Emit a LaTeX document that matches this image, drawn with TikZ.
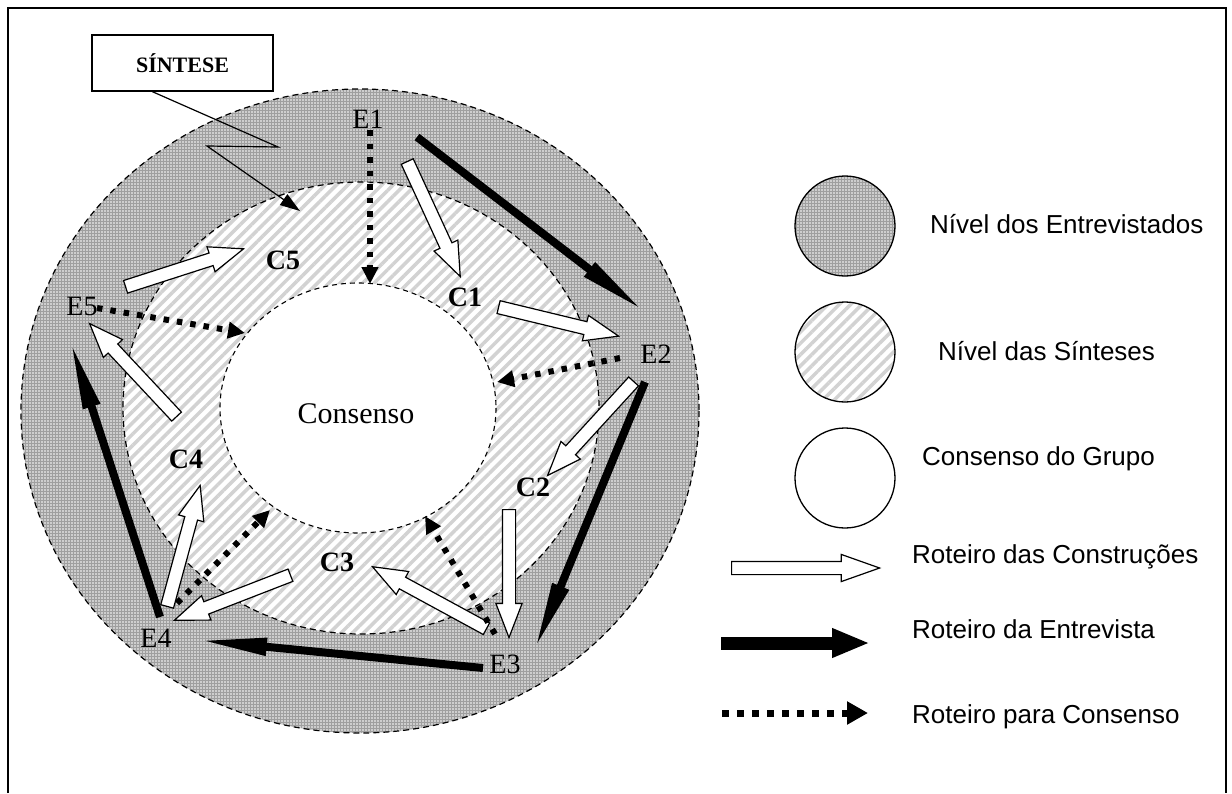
\documentclass[tikz,border=0pt]{standalone}
\usepackage{fontspec}
\setmainfont{Liberation Serif}
\newfontfamily\legendfont{Liberation Sans}
\usetikzlibrary{arrows.meta,patterns.meta,shapes.arrows,calc}

\tikzset{
  entrevistados/.style={preaction={fill=gray!75}, pattern={Dots[distance=3pt,radius=0.8pt]}, pattern color=white},
  sinteses/.style={preaction={fill=white}, pattern={Lines[angle=45,distance=8pt,line width=3.5pt]}, pattern color=gray!35},
  ringborder/.style={draw=black, line width=1.2pt, dash pattern=on 6pt off 4pt},
  legcircle/.style={circle, draw=black, line width=1.3pt, minimum size=100pt, inner sep=0pt},
  elabel/.style={inner sep=0pt, font=\fontsize{28}{30}\selectfont},
  clabel/.style={inner sep=0pt, font=\bfseries\fontsize{28}{30}\selectfont},
  legtext/.style={anchor=base west, inner sep=0pt, font=\legendfont\fontsize{26}{28}\selectfont},
  construcao/.style={single arrow, draw=black, fill=white, line width=1.2pt, inner xsep=0pt, inner ysep=6pt,
    single arrow head extend=6.5pt, single arrow tip angle=42, single arrow head indent=0pt, anchor=tail},
  entrevista/.style={line width=8pt, -{Triangle[length=70pt,width=16pt]}},
  consenso/.style={line width=6pt, dash pattern=on 5.5pt off 8pt, -{Triangle[length=17pt,width=16pt]}},
}

\newcommand{\blockarrow}[3][]{%
  \path let \p1=(#2), \p2=(#3), \n1={veclen(\x2-\x1,\y2-\y1)}, \n2={atan2(\y2-\y1,\x2-\x1)} in
    node[construcao, #1, minimum height=\n1, rotate=\n2] at (#2) {};}

\begin{document}
\begin{tikzpicture}[x=1pt,y=-1pt]
\useasboundingbox (0,0) rectangle (1232,793);
% moldura
\draw[line width=1.5pt] (8,793) -- (8,8) -- (1226,8) -- (1226,793);

% niveis
\path[entrevistados] (360,411) ellipse [x radius=339, y radius=322];
\draw[ringborder] (360,411) ellipse [x radius=339, y radius=322];
\path[sinteses] (361,408) ellipse [x radius=238, y radius=226];
\draw[ringborder] (361,408) ellipse [x radius=238, y radius=226];
\path[fill=white, draw=black, line width=1.1pt, dash pattern=on 5pt off 4pt] (358,408) ellipse [x radius=138, y radius=125];

% rotulos
\node[elabel] (E1) at (368,119) {E1};
\node[elabel] (E2) at (656,354) {E2};
\node[elabel] (E3) at (505,664) {E3};
\node[elabel] (E4) at (156,638) {E4};
\node[elabel] (E5) at (82,306) {E5};
\node[clabel] (C1) at (465,297) {C1};
\node[clabel] (C2) at (533,487) {C2};
\node[clabel] (C3) at (337,562) {C3};
\node[clabel] (C4) at (186,459) {C4};
\node[clabel] (C5) at (283,260) {C5};
\node[inner sep=0pt, font=\fontsize{30}{32}\selectfont] (centro) at (356,414) {Consenso};

% roteiro da entrevista
\coordinate (ent12a) at (417,137);
\coordinate (ent12b) at (645,312);
\coordinate (ent23a) at (645,382);
\coordinate (ent23b) at (534,651);
\coordinate (ent34a) at (483,668);
\coordinate (ent34b) at (197,640);
\coordinate (ent45a) at (160,617);
\coordinate (ent45b) at (70,340);
\draw[entrevista] (ent12a) -- (ent12b);
\draw[entrevista] (ent23a) -- (ent23b);
\draw[entrevista] (ent34a) -- (ent34b);
\draw[entrevista] (ent45a) -- (ent45b);

% roteiro das construcoes
\coordinate (con1a) at (407,161);
\coordinate (con1b) at (460,276);
\coordinate (con2a) at (498,307);
\coordinate (con2b) at (618,336);
\coordinate (con3a) at (634,381);
\coordinate (con3b) at (548,475);
\coordinate (con4a) at (509,509);
\coordinate (con4b) at (509,637);
\coordinate (con5a) at (487,629);
\coordinate (con5b) at (373,567);
\coordinate (con6a) at (291,575);
\coordinate (con6b) at (175,620);
\coordinate (con7a) at (167,607);
\coordinate (con7b) at (200,486);
\coordinate (con8a) at (177,417);
\coordinate (con8b) at (90,324);
\coordinate (con9a) at (125,287);
\coordinate (con9b) at (243,249);
\blockarrow{con1a}{con1b}
\blockarrow{con2a}{con2b}
\blockarrow{con3a}{con3b}
\blockarrow{con4a}{con4b}
\blockarrow{con5a}{con5b}
\blockarrow{con6a}{con6b}
\blockarrow{con7a}{con7b}
\blockarrow{con8a}{con8b}
\blockarrow{con9a}{con9b}

% roteiro para consenso
\coordinate (cons1) at (370,130);
\coordinate (cons2) at (620,358);
\coordinate (cons3) at (495,634);
\coordinate (cons4) at (177,603);
\coordinate (cons5) at (97,308);
\draw[consenso] (cons1) -- (370,284);
\draw[consenso] (cons2) -- (497,382);
\draw[consenso] (cons3) -- (425,516);
\draw[consenso] (cons4) -- (270,510);
\draw[consenso] (cons5) -- (245,333);

% sintese
\node[draw, line width=1.3pt, minimum width=181pt, minimum height=56pt, inner sep=0pt,
  font=\bfseries\fontsize{22}{24}\selectfont] (sintese) at (182.5,63) {SÍNTESE};
\coordinate (raio0) at ($(sintese.south west)+(61,0)$);
\coordinate (raio1) at (278,147);
\coordinate (raio2) at (207,146);
\coordinate (raio3) at (300,211);
\draw[line width=1.2pt, -{Triangle[length=20pt,width=13pt]}] (raio0) -- (raio1) -- (raio2) -- (raio3);

% legenda
\node[legcircle, entrevistados] (legent) at (845,226) {};
\node[legcircle, sinteses] (legsin) at (845,352) {};
\node[legcircle, fill=white] (legcon) at (845,478) {};
\node[legtext] (txtent) at (930,233) {Nível dos Entrevistados};
\node[legtext] (txtsin) at (938,360) {Nível das Sínteses};
\node[legtext] (txtcon) at (922,465) {Consenso do Grupo};

\coordinate (legc1) at (731,568);
\coordinate (legc2) at (879,568);
\blockarrow[single arrow head extend=7pt, single arrow tip angle=39]{legc1}{legc2}
\coordinate (lege1) at (721,643);
\coordinate (lege2) at (870,643);
\draw[line width=13pt, -{Triangle[length=38pt,width=27pt]}] (lege1) -- (lege2);
\coordinate (legp1) at (722,713);
\coordinate (legp2) at (868,713);
\draw[line width=7pt, dash pattern=on 7pt off 8pt, -{Triangle[length=21pt,width=22pt]}] (legp1) -- (legp2);
\node[legtext] (txtc) at (912,563) {Roteiro das Construções};
\node[legtext] (txte) at (912,638) {Roteiro da Entrevista};
\node[legtext] (txtp) at (912,723) {Roteiro para Consenso};
\end{tikzpicture}
\end{document}
